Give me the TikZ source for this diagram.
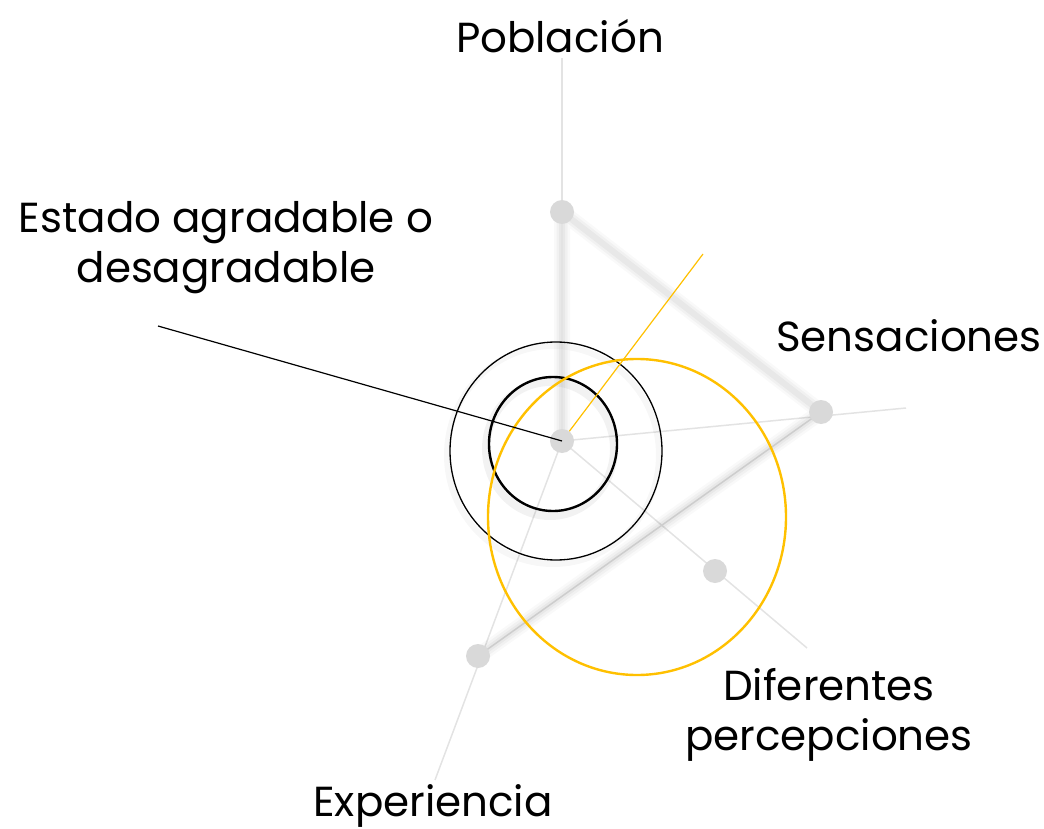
\documentclass[tikz,border=0pt]{standalone}
\usepackage{fontspec}
\setmainfont{Poppins}
\usetikzlibrary{positioning}

\definecolor{dotgray}{HTML}{D9D9D9}
\definecolor{axisgray}{HTML}{E3E3E3}
\definecolor{gold}{HTML}{FFC000}

\tikzset{
  dot/.style={circle, fill=dotgray, minimum size=24pt, inner sep=0pt},
  tag/.style={font=\fontsize{42}{50}\selectfont, align=center, inner sep=0pt, anchor=base},
  axisline/.style={draw=axisgray, line width=1.5pt},
  glow/.style={draw=black, line cap=round, line join=round}
}

\begin{document}
\begin{tikzpicture}[x=1pt, y=-1pt]
    \useasboundingbox (0,0) rectangle (1044,829);
    % positions of the points
    \coordinate (cO) at (562,441);
    \coordinate (cP) at (562,212);
    \coordinate (cS) at (821,412);
    \coordinate (cD) at (715,571);
    \coordinate (cE) at (478,656);
    % free ends of the axes
    \coordinate (endP) at (562,58);
    \coordinate (endS) at (906,408);
    \coordinate (endD) at (807,648);
    \coordinate (endE) at (435,780);
    \coordinate (endY) at (703,254);
    \coordinate (endK) at (158,326);

    \path
    (cO) edge[axisline] (endP)
    (cO) edge[axisline] (endS)
    (cO) edge[axisline] (endD)
    (cO) edge[axisline] (endE)
    (cS) edge[axisline] (cE)
    ;
    % soft band
    \draw[glow, line width=16pt, opacity=0.025] (cO) -- (cP) -- (cS) -- (cE);
    \draw[glow, line width=11pt, opacity=0.03] (cO) -- (cP) -- (cS) -- (cE);
    \draw[glow, line width=6pt, opacity=0.04] (cO) -- (cP) -- (cS) -- (cE);
    \draw[axisline] (cO) -- (cP);

    % rings
    \draw[black, line width=8pt, opacity=0.05] (550,449) ellipse [x radius=64, y radius=67];
    \draw[black, line width=6pt, opacity=0.03] (553,455) ellipse [x radius=106, y radius=109];
    \draw[black, line width=1.3pt] (556,451) ellipse [x radius=106, y radius=109];
    \draw[black, line width=2.4pt] (553,444) ellipse [x radius=64, y radius=67];
    \draw[gold, line width=2.4pt] (637,517) ellipse [x radius=149, y radius=158];

    \node[dot] (pob) at (cP) {};
    \node[dot] (sen) at (cS) {};
    \node[dot] (dif) at (cD) {};
    \node[dot] (exp) at (cE) {};
    \node[dot] (mid) at (cO) {};

    \path (mid) edge[gold, line width=1.2pt] (endY);
    \draw[black, line width=1.2pt] (endK) -- (cO);

    \node[tag] (tPob) at (560,53) {Población};
    \node[tag] (tEst) at (226,282) {Estado agradable o\\desagradable};
    \node[tag] (tSen) at (909,351) {Sensaciones};
    \node[tag] (tDif) at (829,750) {Diferentes\\percepciones};
    \node[tag] (tExp) at (433,816) {Experiencia};
\end{tikzpicture}
\end{document}
